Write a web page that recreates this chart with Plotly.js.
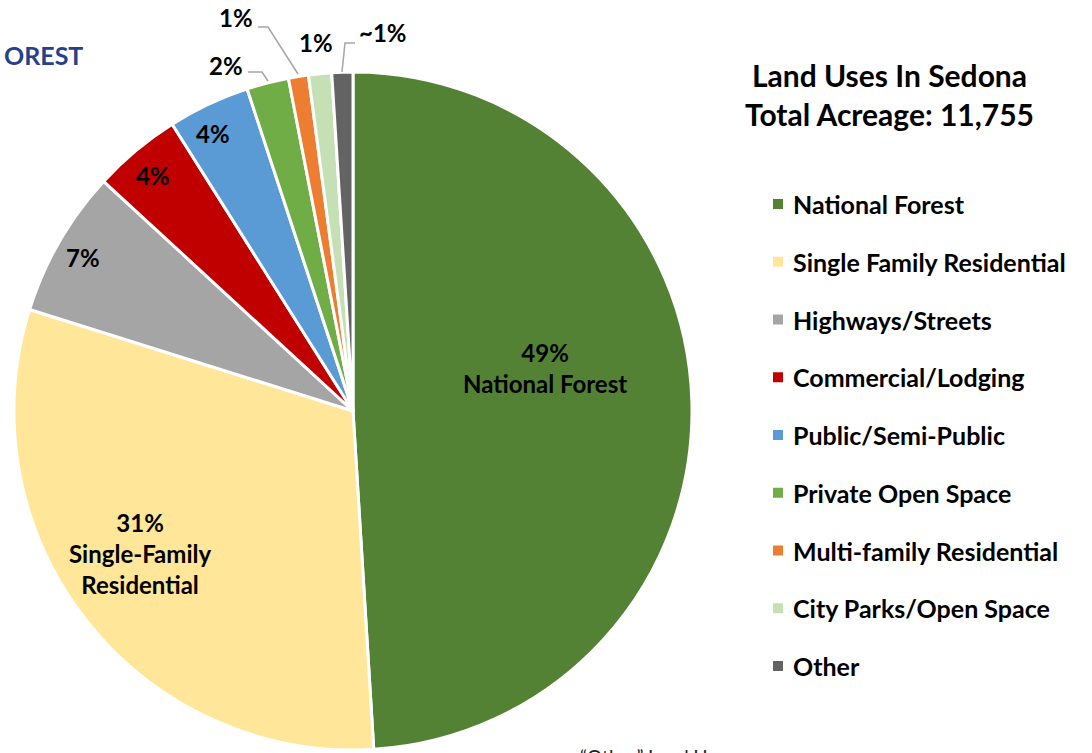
<!DOCTYPE html>
<html>
<head>
<meta charset="utf-8">
<script src="https://cdn.plot.ly/plotly-3.0.1.min.js"></script>
<style>html,body{margin:0;padding:0;background:#fff;}#chart{width:1092px;height:753px;}</style>
</head>
<body>
<div id="chart"></div>
<script>
// ---- data ----
const categories = ["National Forest","Single Family Residential","Highways/Streets","Commercial/Lodging","Public/Semi-Public","Private Open Space","Multi-family Residential","City Parks/Open Space","Other"];
const percentValues = [49.0, 30.8, 7.0, 4.2, 3.9, 2.0, 0.95, 1.1, 1.0];
const sliceLabels = ["49%<br>National Forest","31%<br>Single-Family<br>Residential","7%","4%","4%","2%","1%","1%","~1%"];
const sliceColors = ["#548235","#FFE699","#A5A5A5","#C00000","#5B9BD5","#70AD47","#ED7D31","#C5E0B4","#636363"];
const titleLines = ["Land Uses In Sedona","Total Acreage: 11,755"];

// ---- layout helpers (pixel -> paper) ----
const W = 1092, H = 753;
const px = x => x / W;
const py = y => 1 - y / H;
const FONT = "Lato, 'Open Sans', sans-serif";

// label positions (pixels) for each slice label
const labelPos = [[545,368],[140,553],[83,258],[153,175],[213,133],[226,65],[236,18],[316,43],[383,33]];

const trace = {
  type: "pie",
  labels: categories,
  values: percentValues,
  sort: false,
  direction: "clockwise",
  rotation: 0,
  marker: {colors: sliceColors, line: {color: "#ffffff", width: 3}},
  textinfo: "none",
  hoverinfo: "label+percent",
  showlegend: false,
  domain: {x: [px(14), px(692)], y: [py(750), py(72)]}
};

const annotations = [];
sliceLabels.forEach((t, i) => {
  annotations.push({
    text: "<b>" + t + "</b>", xref: "paper", yref: "paper",
    x: px(labelPos[i][0]), y: py(labelPos[i][1]), xanchor: "center", yanchor: "middle",
    showarrow: false, font: {family: FONT, size: 24, color: "#000"}
  });
});
// title
annotations.push({
  text: "<b>" + titleLines.join("<br>") + "</b>", xref: "paper", yref: "paper",
  x: px(889), y: py(94), xanchor: "center", yanchor: "middle", showarrow: false,
  font: {family: FONT, size: 30, color: "#000"}
});
// partial heading
annotations.push({
  text: "<b>OREST</b>", xref: "paper", yref: "paper", x: px(2), y: py(55),
  xanchor: "left", yanchor: "middle", showarrow: false,
  font: {family: FONT, size: 25, color: "#27408B"}
});
// bottom note (cut off as in the source)
annotations.push({
  text: "“Other” Land Use", xref: "paper", yref: "paper", x: px(578), y: py(743),
  xanchor: "left", yanchor: "top", showarrow: false,
  font: {family: FONT, size: 19, color: "#222"}
});

// custom legend
const shapes = [];
const legendY0 = 204, legendStep = 57.75;
categories.forEach((c, i) => {
  const y = legendY0 + i * legendStep;
  shapes.push({type: "rect", xref: "paper", yref: "paper",
    x0: px(773), x1: px(783), y0: py(y + 5), y1: py(y - 5),
    fillcolor: sliceColors[i], line: {width: 0}});
  annotations.push({
    text: "<b>" + c + "</b>", xref: "paper", yref: "paper", x: px(791), y: py(y),
    xanchor: "left", yanchor: "middle", showarrow: false,
    font: {family: FONT, size: 25, color: "#000"}
  });
});

// leader lines
const leaders = [
  [[248,72],[262,72],[268,81]],
  [[258,27],[268,27],[298,74]],
  [[355,43],[345,43],[342,72]]
];
leaders.forEach(pts => {
  let d = "M" + pts.map(p => px(p[0]) + "," + py(p[1])).join(" L");
  shapes.push({type: "path", xref: "paper", yref: "paper", path: d,
    line: {color: "#A6A6A6", width: 1.5}});
});

const layout = {
  width: W, height: H,
  margin: {l: 0, r: 0, t: 0, b: 0},
  paper_bgcolor: "#fff", plot_bgcolor: "#fff",
  showlegend: false,
  annotations: annotations,
  shapes: shapes
};

Plotly.newPlot("chart", [trace], layout, {displayModeBar: false, staticPlot: true});
</script>
</body>
</html>
